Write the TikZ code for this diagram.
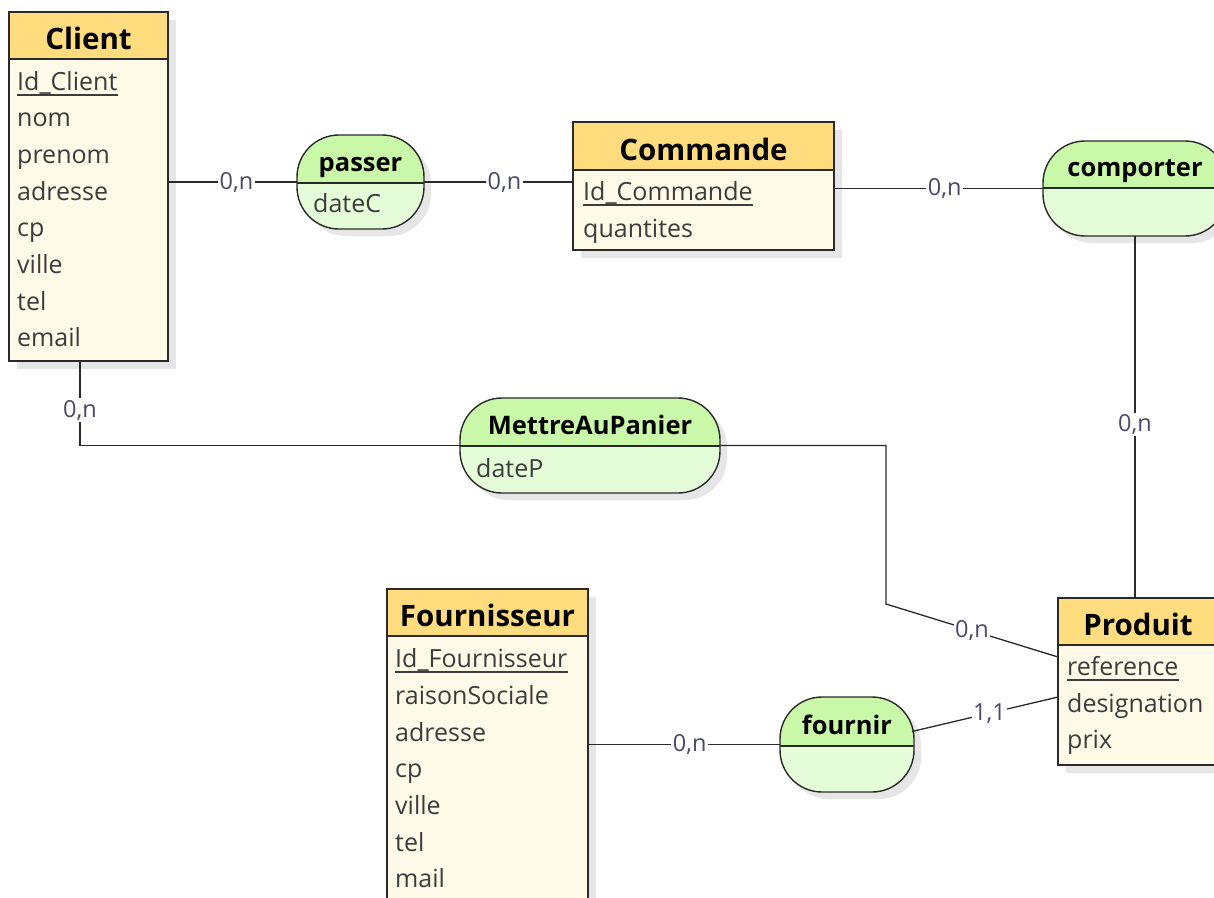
\documentclass[tikz,border=0pt]{standalone}
\usepackage{fontspec}
\setmainfont{Open Sans}
\usetikzlibrary{calc}
\definecolor{hdr}{HTML}{FFDC7E}
\definecolor{bodyc}{HTML}{FFF9E7}
\definecolor{atop}{HTML}{C8F8A8}
\definecolor{abot}{HTML}{E4FDD8}
\definecolor{shad}{HTML}{E6E6E6}
\definecolor{ln}{HTML}{2A2A2A}
\definecolor{attrc}{HTML}{3C3C3C}
\definecolor{cardc}{HTML}{4A4A68}
\tikzset{
  frame/.style={draw=ln, line width=1.4pt, inner sep=0pt, outer sep=0pt, anchor=north west},
  etitle/.style={font=\fontsize{29.5}{34}\selectfont\bfseries, inner sep=0pt, anchor=base, text=black},
  atitle/.style={font=\fontsize{25.5}{30}\selectfont\bfseries, inner sep=0pt, anchor=base, text=black},
  attrt/.style={font=\fontsize{25}{30}\selectfont, inner sep=0pt, anchor=base west, text=attrc},
  ul/.style={draw=attrc, line width=1.4pt},
  conn/.style={draw=ln, line width=1.3pt},
  card/.style={font=\fontsize{23.5}{27}\selectfont, text=cardc, fill=white, inner sep=1.5pt},
  divl/.style={draw=ln, line width=1.2pt}
}
% entity: name, x, y, w, h, header height, title
\newcommand\myentity[7]{%
  \fill[shad] (#2+8,#3+8) rectangle (#2+#4+8,#3+#5+8);
  \fill[bodyc] (#2,#3) rectangle (#2+#4,#3+#5);
  \fill[hdr] (#2,#3) rectangle (#2+#4,#3+#6);
  \draw[divl] (#2,#3+#6) -- (#2+#4,#3+#6);
  \node[frame, minimum width=#4pt, minimum height=#5pt] (#1) at (#2,#3) {};
  \node[etitle] (#1-t) at (#2+#4/2,#3+#6-10) {#7};
}
% association: name, x, y, w, h, divider offset, title
\newcommand\myassoc[7]{%
  \fill[shad, rounded corners=42pt] (#2+7,#3+7) rectangle (#2+#4+7,#3+#5+7);
  \fill[abot, rounded corners=42pt] (#2,#3) rectangle (#2+#4,#3+#5);
  \begin{scope}
    \clip (#2-3,#3-3) rectangle (#2+#4+3,#3+#6);
    \fill[atop, rounded corners=42pt] (#2,#3) rectangle (#2+#4,#3+#5);
  \end{scope}
  \draw[divl] (#2,#3+#6) -- (#2+#4,#3+#6);
  \node[frame, rounded corners=42pt, minimum width=#4pt, minimum height=#5pt] (#1) at (#2,#3) {};
  \node[atitle] (#1-t) at (#2+#4/2,#3+#6-12) {#7};
}
\newcommand\keyline[1]{%
  \draw[ul] ($(#1.base west)+(0,5)$) -- ($(#1.base east)+(0,5)$);
}
\begin{document}
\begin{tikzpicture}[x=1pt,y=-1pt]
\useasboundingbox (0,0) rectangle (1214,897);
\clip (0,0) rectangle (1214,897);
\fill[white] (0,0) rectangle (1214,897);

% Client
\myentity{client}{9}{12}{159}{349}{47}{Client}
\node[attrt] (c1) at (17,90) {Id\_Client}; \keyline{c1}
\node[attrt] (c2) at (17,126.7) {nom};
\node[attrt] (c3) at (17,163.3) {prenom};
\node[attrt] (c4) at (17,200) {adresse};
\node[attrt] (c5) at (17,236.7) {cp};
\node[attrt] (c6) at (17,273.3) {ville};
\node[attrt] (c7) at (17,310) {tel};
\node[attrt] (c8) at (17,346.7) {email};

% Commande
\myentity{commande}{573}{122}{261}{128}{48}{Commande}
\node[attrt] (k1) at (583,200) {Id\_Commande}; \keyline{k1}
\node[attrt] (k2) at (583,237) {quantites};

% Produit
\myentity{produit}{1058}{598}{160}{167}{47}{Produit}
\node[attrt] (p1) at (1067,675) {reference}; \keyline{p1}
\node[attrt] (p2) at (1067,712) {designation};
\node[attrt] (p3) at (1067,748) {prix};

% Fournisseur
\myentity{fournisseur}{387}{589}{201}{330}{47}{Fournisseur}
\node[attrt] (f1) at (395,667) {Id\_Fournisseur}; \keyline{f1}
\node[attrt] (f2) at (395,704) {raisonSociale};
\node[attrt] (f3) at (395,741) {adresse};
\node[attrt] (f4) at (395,777) {cp};
\node[attrt] (f5) at (395,814) {ville};
\node[attrt] (f6) at (395,851) {tel};
\node[attrt] (f7) at (395,887) {mail};

% Associations
\myassoc{passer}{297}{135}{127}{94}{48}{passer}
\node[attrt] (pa1) at (313,212) {dateC};
\myassoc{comporter}{1043}{141}{184}{95}{47}{comporter}
\myassoc{mettre}{460}{398}{260}{95}{48}{MettreAuPanier}
\node[attrt] (m1) at (476,477) {dateP};
\myassoc{fournir}{780}{697}{134}{95}{49}{fournir}

% Connectors
\draw[conn] (client.east |- passer.west) -- node[card,pos=0.53]{0,n} (passer.west);
\draw[conn] (passer.east) -- node[card,pos=0.54]{0,n} (passer.east -| commande.west);
\draw[conn] (commande.east |- comporter.west) -- node[card,pos=0.53]{0,n} (comporter.west);
\draw[conn] (comporter.south) -- node[card,pos=0.52]{0,n} (comporter.south |- produit.north);

\coordinate (cm1) at ($(client.south west)+(71,0)$);
\coordinate (cm2) at (cm1 |- mettre.west);
\draw[conn] (cm1) -- node[card,pos=0.58]{0,n} (cm2) -- (mettre.west);

\coordinate (mp1) at (886,604);
\coordinate (mp0) at (mp1 |- mettre.east);
\coordinate (mp2) at ($(produit.north west)+(0,59)$);
\draw[conn] (mettre.east) -- (mp0) -- (mp1) -- node[card,pos=0.5]{0,n} (mp2);

\draw[conn] (fournisseur.east |- fournir.west) -- node[card,pos=0.53]{0,n} (fournir.west);
\coordinate (fp1) at ($(fournir.east)+(-2,-13)$);
\coordinate (fp2) at ($(produit.north west)+(0,99)$);
\draw[conn] (fp1) -- node[card,pos=0.53]{1,1} (fp2);
\end{tikzpicture}
\end{document}
